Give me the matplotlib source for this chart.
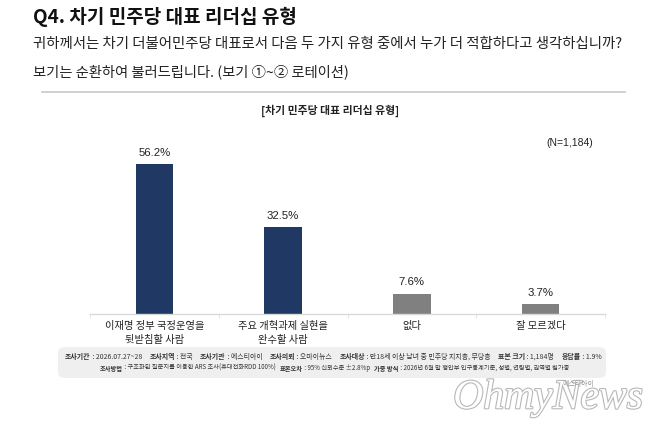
import matplotlib
matplotlib.use("Agg")
import matplotlib.pyplot as plt
from matplotlib.patches import FancyBboxPatch
import matplotlib.patheffects as pe

# ---- data ----
categories = ["이재명 정부 국정운영을\n뒷받침할 사람", "주요 개혁과제 실현을\n완수할 사람", "없다", "잘 모르겠다"]
values = [56.2, 32.5, 7.6, 3.7]
value_labels = ["56.2%", "32.5%", "7.6%", "3.7%"]
bar_colors = ["#1f3864", "#1f3864", "#808080", "#808080"]

title = "Q4. 차기 민주당 대표 리더십 유형"
subtitle1 = "귀하께서는 차기 더불어민주당 대표로서 다음 두 가지 유형 중에서 누가 더 적합하다고 생각하십니까?"
subtitle2 = "보기는 순환하여 불러드립니다. (보기 ①~② 로테이션)"
chart_title = "[차기 민주당 대표 리더십 유형]"
n_label = "(N=1,184)"
footer1 = [("조사기간", " : 2026.07.27~28"), ("조사지역", " : 전국"), ("조사기관", " : 에스티아이"),
           ("조사의뢰", " : 오마이뉴스"), ("조사대상", " : 만18세 이상 남녀 중 민주당 지지층, 무당층"),
           ("표본 크기", " : 1,184명"), ("응답률", " : 1.9%")]
footer2 = [("조사방법", " : 구조화된 질문지를 이용한 ARS 조사(휴대전화RDD 100%)"),
           ("표본오차", " : 95% 신뢰수준 ±2.8%p"),
           ("가중 방식", " : 2026년 6월 말 행안부 인구통계기준, 성별, 연령별, 권역별 림가중")]

KR = ["Noto Sans CJK KR", "DejaVu Sans"]
NUM = ["Liberation Sans", "Noto Sans CJK KR", "DejaVu Sans"]
plt.rcParams['font.family'] = KR

W, H = 658, 438
fig = plt.figure(figsize=(W / 100, H / 100), dpi=100)
fig.patch.set_facecolor("white")

def fx(px):
    return px / W

def fy(py):
    return 1 - py / H

# headings
fig.text(fx(33), fy(17), title, fontsize=13.7, fontweight="bold", color="#111111", va="center", ha="left")
fig.text(fx(33), fy(44), subtitle1, fontsize=10.4, color="#222222", va="center", ha="left")
fig.text(fx(33), fy(72), subtitle2, fontsize=10.3, color="#222222", va="center", ha="left")
fig.add_artist(plt.Line2D([fx(42), fx(625)], [fy(92), fy(92)], color="#c8c8c8", lw=1.2))
fig.text(fx(330), fy(111), chart_title, fontsize=7.8, fontweight="bold", color="#222222", va="center", ha="center")
fig.text(fx(570), fy(143), n_label, fontsize=7.5, color="#222222", va="center", ha="center", family=NUM)

# axes
ax_left, ax_right = 90, 605
ax_bottom = 314
ymax = 60
px_per_unit = 2.67
ax_top = ax_bottom - ymax * px_per_unit
ax = fig.add_axes([fx(ax_left), fy(ax_bottom), (ax_right - ax_left) / W, (ax_bottom - ax_top) / H])
x = list(range(len(categories)))
ax.bar(x, values, width=0.29, color=bar_colors, zorder=2)
for xi, v, lab in zip(x, values, value_labels):
    ax.text(xi, v + 2.4, lab, ha="center", va="bottom", fontsize=8.2, color="#222222", family=NUM)
ax.set_xlim(-0.5, len(categories) - 0.5)
ax.set_ylim(0, ymax)
ax.set_yticks([])
ax.set_xticks(x)
ax.set_xticklabels(categories, fontsize=7.4, color="#222222", linespacing=1.55)
ax.tick_params(axis="x", length=0, pad=5)
ax.set_xticks([i + 0.5 for i in range(-1, len(categories))], minor=True)
ax.tick_params(axis="x", which="minor", length=3, color="#e0e0e0", direction="out")
for s in ["top", "right", "left"]:
    ax.spines[s].set_visible(False)
ax.spines["bottom"].set_color("#d9d9d9")
ax.spines["bottom"].set_linewidth(1.0)
ax.patch.set_alpha(0)

# footer box
box = FancyBboxPatch((fx(58), fy(378)), fx(606) - fx(58), fy(347) - fy(378),
                     boxstyle="round,pad=0,rounding_size=0.012", transform=fig.transFigure,
                     facecolor="#efefef", edgecolor="none")
fig.add_artist(box)

renderer = fig.canvas.get_renderer()

def draw_segments(segments, py, gap, x0, x1):
    pieces = []
    for i, (lab, val) in enumerate(segments):
        pieces.append((lab, "bold"))
        pieces.append((val + ("" if i == len(segments) - 1 else gap), "normal"))

    def measure(fs):
        ws = []
        for txt, wt in pieces:
            t = fig.text(0, 0, txt, fontsize=fs, fontweight=wt)
            ws.append(t.get_window_extent(renderer).width)
            t.remove()
        return ws

    base = 5.0
    total = sum(measure(base))
    fs = base * (x1 - x0) / total
    widths = measure(fs)
    xpos = x0
    for (txt, wt), w in zip(pieces, widths):
        fig.text(fx(xpos), fy(py), txt, fontsize=fs, fontweight=wt, color="#333333",
                 va="center", ha="left")
        xpos += w

draw_segments(footer1, 357, "     ", 65, 600)
draw_segments(footer2, 368, "   ", 100, 565)

# watermark
fig.text(fx(548), fy(398), "OhmyNews", fontsize=30, style="italic", family=["Liberation Serif"],
         color="white", ha="center", va="center",
         path_effects=[pe.withStroke(linewidth=1.6, foreground="#b8b8b8")])
fig.text(fx(578), fy(384), "에스티아이", fontsize=5, color="#9a9a9a", ha="center", va="center")

fig.savefig("out.png", dpi=100, facecolor="white")
